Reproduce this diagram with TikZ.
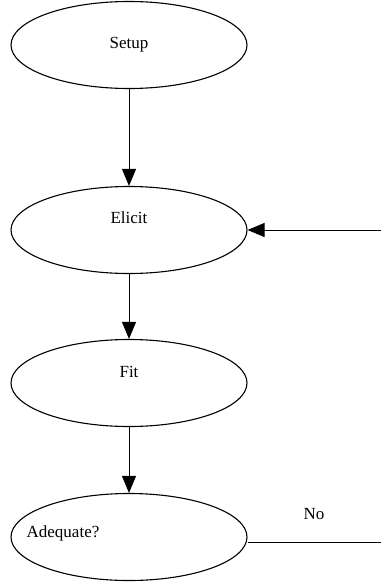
\documentclass[tikz,border=0pt]{standalone}
\usepackage{fontspec}
\setmainfont{Liberation Serif}
\usetikzlibrary{shapes.geometric,arrows.meta}
\begin{document}
\begin{tikzpicture}[x=1pt,y=-1pt,
  stage/.style={draw,ellipse,line width=1.1pt,minimum width=236pt,minimum height=87pt,inner sep=0pt},
  lbl/.style={font=\fontsize{17}{20}\selectfont,inner sep=0pt},
  flow/.style={line width=1pt,-{Triangle[length=17pt,width=14pt]}}]
\useasboundingbox (0,0) rectangle (381,583);
\node[stage] (setup) at (129,45) {};
\node[lbl] (tsetup) at (129,45) {Setup};
\node[stage] (elicit) at (129,230) {};
\node[lbl] (telicit) at (129,218) {Elicit};
\node[stage] (fit) at (129,383) {};
\node[lbl] (tfit) at (129,372) {Fit};
\node[stage] (adeq) at (129,537) {};
\node[lbl] (tadeq) at (63,533) {Adequate?};
\node[lbl] (no) at (314,514) {No};
\coordinate (rin) at (381,230);
\coordinate (rout) at (381,542);
\draw[flow] (setup) -- (elicit);
\draw[flow] (elicit) -- (fit);
\draw[flow] (fit) -- (adeq);
\draw[flow] (rin) -- (elicit.east);
\draw[line width=1pt] (adeq.east |- rout) -- (rout);
\end{tikzpicture}
\end{document}
